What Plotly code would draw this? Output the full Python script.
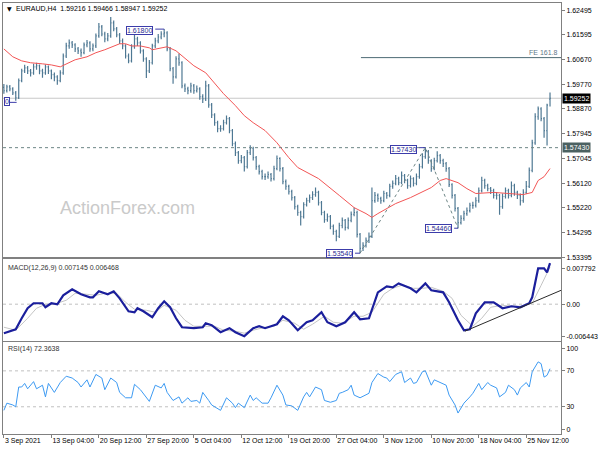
import plotly.graph_objects as go

# ---------------- data ----------------
bar_index = list(range(185))
bar_open = [
    1.5965, 1.5953, 1.5967, 1.5960, 1.5945, 1.5927, 1.5990, 1.6026, 1.6037, 1.6026,
    1.6019, 1.6041, 1.6045, 1.6026, 1.6019, 1.6041, 1.6026, 1.6012, 1.6004, 1.5990,
    1.6019, 1.6081, 1.6118, 1.6129, 1.6122, 1.6107, 1.6100, 1.6093, 1.6122, 1.6129,
    1.6107, 1.6118, 1.6155, 1.6188, 1.6162, 1.6144, 1.6155, 1.6203, 1.6181, 1.6159,
    1.6137, 1.6118, 1.6081, 1.6063, 1.6115, 1.6144, 1.6129, 1.6100, 1.6070, 1.6026,
    1.6056, 1.6118, 1.6137, 1.6151, 1.6162, 1.6166, 1.6107, 1.6034, 1.6004, 1.6070,
    1.6056, 1.5971, 1.5960, 1.5953, 1.5971, 1.5953, 1.5960, 1.5931, 1.5923, 1.5971,
    1.5901, 1.5864, 1.5835, 1.5813, 1.5813, 1.5835, 1.5850, 1.5806, 1.5758, 1.5725,
    1.5695, 1.5706, 1.5673, 1.5725, 1.5740, 1.5706, 1.5673, 1.5655, 1.5636, 1.5636,
    1.5644, 1.5629, 1.5666, 1.5703, 1.5666, 1.5618, 1.5600, 1.5581, 1.5559, 1.5526,
    1.5504, 1.5489, 1.5533, 1.5548, 1.5559, 1.5570, 1.5578, 1.5540, 1.5504, 1.5478,
    1.5489, 1.5453, 1.5434, 1.5416, 1.5456, 1.5475, 1.5449, 1.5475, 1.5497, 1.5504,
    1.5423, 1.5372, 1.5383, 1.5401, 1.5416, 1.5548, 1.5567, 1.5555, 1.5548, 1.5574,
    1.5567, 1.5600, 1.5611, 1.5629, 1.5614, 1.5640, 1.5622, 1.5603, 1.5629, 1.5611,
    1.5636, 1.5673, 1.5710, 1.5728, 1.5695, 1.5666, 1.5695, 1.5714, 1.5695, 1.5684,
    1.5666, 1.5607, 1.5567, 1.5519, 1.5467, 1.5482, 1.5500, 1.5511, 1.5530, 1.5530,
    1.5548, 1.5585, 1.5622, 1.5603, 1.5592, 1.5585, 1.5567, 1.5567, 1.5526, 1.5563,
    1.5585, 1.5567, 1.5603, 1.5578, 1.5567, 1.5548, 1.5578, 1.5600, 1.5659, 1.5761,
    1.5857, 1.5886, 1.5850, 1.5806, 1.59216,
]
bar_high = [
    1.5978, 1.5975, 1.5974, 1.5966, 1.5952, 1.5998, 1.6034, 1.6049, 1.6044, 1.6033,
    1.6052, 1.6056, 1.6050, 1.6034, 1.6050, 1.6046, 1.6031, 1.6020, 1.6010, 1.6028,
    1.6090, 1.6130, 1.6142, 1.6136, 1.6128, 1.6114, 1.6109, 1.6131, 1.6140, 1.6135,
    1.6127, 1.6164, 1.6203, 1.6195, 1.6170, 1.6166, 1.6225, 1.6212, 1.6188, 1.6166,
    1.6145, 1.6124, 1.6090, 1.6124, 1.6158, 1.6152, 1.6135, 1.6106, 1.6076, 1.6066,
    1.6126, 1.6148, 1.6162, 1.6172, 1.6180, 1.6172, 1.6114, 1.6040, 1.6080, 1.6090,
    1.6062, 1.5980, 1.5968, 1.5982, 1.5978, 1.5972, 1.5966, 1.5940, 1.5990, 1.5978,
    1.5908, 1.5870, 1.5842, 1.5826, 1.5846, 1.5862, 1.5856, 1.5812, 1.5766, 1.5731,
    1.5716, 1.5712, 1.5734, 1.5752, 1.5746, 1.5712, 1.5680, 1.5662, 1.5648, 1.5655,
    1.5650, 1.5676, 1.5714, 1.5708, 1.5672, 1.5626, 1.5606, 1.5588, 1.5565, 1.5533,
    1.5510, 1.5542, 1.5558, 1.5570, 1.5582, 1.5596, 1.5584, 1.5546, 1.5510, 1.5500,
    1.5495, 1.5460, 1.5440, 1.5466, 1.5486, 1.5480, 1.5486, 1.5508, 1.5522, 1.5510,
    1.5428, 1.5394, 1.5412, 1.5430, 1.5596, 1.5580, 1.5574, 1.5562, 1.5584, 1.5580,
    1.5610, 1.5622, 1.5642, 1.5636, 1.5655, 1.5646, 1.5628, 1.5640, 1.5634, 1.5648,
    1.5684, 1.5722, 1.5743, 1.5734, 1.5700, 1.5706, 1.5730, 1.5720, 1.5702, 1.5690,
    1.5672, 1.5612, 1.5572, 1.5524, 1.5494, 1.5510, 1.5522, 1.5540, 1.5544, 1.5560,
    1.5596, 1.5636, 1.5628, 1.5610, 1.5598, 1.5592, 1.5580, 1.5572, 1.5574, 1.5596,
    1.5592, 1.5618, 1.5610, 1.5584, 1.5574, 1.5590, 1.5620, 1.5670, 1.5772, 1.5870,
    1.5895, 1.5892, 1.5856, 1.5905, 1.59466,
]
bar_low = [
    1.5942, 1.5946, 1.5951, 1.5937, 1.5916, 1.5922, 1.5984, 1.6018, 1.6015, 1.6005,
    1.6012, 1.6030, 1.6014, 1.6001, 1.6012, 1.6015, 1.5995, 1.5988, 1.5975, 1.5984,
    1.6012, 1.6074, 1.6108, 1.6110, 1.6096, 1.6088, 1.6078, 1.6087, 1.6113, 1.6097,
    1.6098, 1.6110, 1.6148, 1.6154, 1.6132, 1.6135, 1.6148, 1.6172, 1.6150, 1.6125,
    1.6106, 1.6072, 1.6054, 1.6057, 1.6108, 1.6118, 1.6090, 1.6060, 1.6000, 1.6018,
    1.6050, 1.6110, 1.6128, 1.6143, 1.6150, 1.6098, 1.6025, 1.5979, 1.5998, 1.6045,
    1.5962, 1.5948, 1.5940, 1.5945, 1.5942, 1.5946, 1.5920, 1.5908, 1.5915, 1.5890,
    1.5852, 1.5824, 1.5800, 1.5802, 1.5806, 1.5828, 1.5796, 1.5748, 1.5712, 1.5684,
    1.5686, 1.5655, 1.5666, 1.5716, 1.5696, 1.5662, 1.5644, 1.5626, 1.5624, 1.5628,
    1.5618, 1.5622, 1.5660, 1.5655, 1.5608, 1.5588, 1.5570, 1.5548, 1.5515, 1.5492,
    1.5456, 1.5482, 1.5526, 1.5540, 1.5550, 1.5562, 1.5530, 1.5494, 1.5466, 1.5470,
    1.5442, 1.5422, 1.5398, 1.5410, 1.5446, 1.5438, 1.5442, 1.5468, 1.5490, 1.5412,
    1.5354, 1.5362, 1.5375, 1.5392, 1.5410, 1.5540, 1.5544, 1.5536, 1.5542, 1.5555,
    1.5560, 1.5592, 1.5604, 1.5604, 1.5608, 1.5612, 1.5592, 1.5596, 1.5600, 1.5604,
    1.5628, 1.5666, 1.5702, 1.5684, 1.5654, 1.5660, 1.5688, 1.5684, 1.5672, 1.5654,
    1.5598, 1.5556, 1.5508, 1.5446, 1.5460, 1.5474, 1.5492, 1.5504, 1.5518, 1.5522,
    1.5540, 1.5578, 1.5592, 1.5582, 1.5572, 1.5556, 1.5552, 1.5496, 1.5518, 1.5556,
    1.5556, 1.5560, 1.5566, 1.5554, 1.5530, 1.5540, 1.5572, 1.5594, 1.5652, 1.5754,
    1.5846, 1.5840, 1.5780, 1.5751, 1.58947,
]
bar_close = [
    1.5953, 1.5967, 1.5960, 1.5945, 1.5927, 1.5990, 1.6026, 1.6037, 1.6026, 1.6019,
    1.6041, 1.6045, 1.6026, 1.6019, 1.6041, 1.6026, 1.6012, 1.6004, 1.5990, 1.6019,
    1.6081, 1.6118, 1.6129, 1.6122, 1.6107, 1.6100, 1.6093, 1.6122, 1.6129, 1.6107,
    1.6118, 1.6155, 1.6188, 1.6162, 1.6144, 1.6155, 1.6203, 1.6181, 1.6159, 1.6137,
    1.6118, 1.6081, 1.6063, 1.6115, 1.6144, 1.6129, 1.6100, 1.6070, 1.6026, 1.6056,
    1.6118, 1.6137, 1.6151, 1.6162, 1.6166, 1.6107, 1.6034, 1.6004, 1.6070, 1.6056,
    1.5971, 1.5960, 1.5953, 1.5971, 1.5953, 1.5960, 1.5931, 1.5923, 1.5971, 1.5901,
    1.5864, 1.5835, 1.5813, 1.5813, 1.5835, 1.5850, 1.5806, 1.5758, 1.5725, 1.5695,
    1.5706, 1.5673, 1.5725, 1.5740, 1.5706, 1.5673, 1.5655, 1.5636, 1.5636, 1.5644,
    1.5629, 1.5666, 1.5703, 1.5666, 1.5618, 1.5600, 1.5581, 1.5559, 1.5526, 1.5504,
    1.5489, 1.5533, 1.5548, 1.5559, 1.5570, 1.5578, 1.5540, 1.5504, 1.5478, 1.5489,
    1.5453, 1.5434, 1.5416, 1.5456, 1.5475, 1.5449, 1.5475, 1.5497, 1.5504, 1.5423,
    1.5372, 1.5383, 1.5401, 1.5416, 1.5548, 1.5567, 1.5555, 1.5548, 1.5574, 1.5567,
    1.5600, 1.5611, 1.5629, 1.5614, 1.5640, 1.5622, 1.5603, 1.5629, 1.5611, 1.5636,
    1.5673, 1.5710, 1.5728, 1.5695, 1.5666, 1.5695, 1.5714, 1.5695, 1.5684, 1.5666,
    1.5607, 1.5567, 1.5519, 1.5467, 1.5482, 1.5500, 1.5511, 1.5530, 1.5530, 1.5548,
    1.5585, 1.5622, 1.5603, 1.5592, 1.5585, 1.5567, 1.5567, 1.5526, 1.5563, 1.5585,
    1.5567, 1.5603, 1.5578, 1.5567, 1.5548, 1.5578, 1.5600, 1.5659, 1.5761, 1.5857,
    1.5886, 1.5850, 1.5806, 1.5900, 1.59252,
]

ma_index = [0, 3, 6, 9, 13, 16, 19, 21, 24, 28, 31, 34, 37, 39, 41, 43, 46, 49, 50, 53,
            55, 58, 61, 64, 68, 71, 74, 78, 81, 84, 88, 92, 96, 99, 106, 113, 118, 122, 124, 126,
            132, 137, 140, 144, 147, 149, 153, 156, 159, 165, 170, 175, 178, 180, 182, 184]
ma_value = [1.6107, 1.6078, 1.6063, 1.6056, 1.6052, 1.6048, 1.6041, 1.6052, 1.6067, 1.6078,
            1.6093, 1.6104, 1.6118, 1.6126, 1.6126, 1.6118, 1.6118, 1.6111, 1.6104, 1.6111,
            1.6115, 1.6100, 1.6074, 1.6045, 1.6019, 1.5979, 1.5942, 1.5898, 1.5861, 1.5835,
            1.5806, 1.5761, 1.5706, 1.5670, 1.5629, 1.5567, 1.5522, 1.5500, 1.5486, 1.5500,
            1.5537, 1.5559, 1.5574, 1.5596, 1.5622, 1.5629, 1.5614, 1.5592, 1.5574, 1.5578,
            1.5574, 1.5570, 1.5578, 1.5622, 1.5636, 1.5666]

macd_index = [0, 4, 6, 8, 10, 13, 14, 16, 18, 20, 23, 26, 29, 30, 32, 35, 37, 39, 42, 44,
              45, 47, 50, 52, 54, 56, 58, 60, 64, 67, 68, 70, 73, 76, 78, 81, 84, 86, 88, 92,
              94, 96, 99, 102, 104, 107, 109, 112, 115, 118, 120, 123, 126, 129, 131, 133, 137, 139, 142, 144,
              148, 150, 153, 155, 157, 159, 162, 165, 168, 171, 174, 177, 178, 180, 182, 183, 184]
macd_value = [-0.00505, -0.00436, -0.00245, -0.00071, 0.00016, 0.00016, -0.00054, 0.00016, -0.00002, 0.00154,
              0.00258, 0.00172, 0.00120, 0.00120, 0.00224, 0.00172, 0.00224, 0.00102, -0.00123, -0.00141,
              -0.00071, -0.00123, -0.00228, -0.00071, 0.00050, -0.00054, -0.00245, -0.00401, -0.00418, -0.00401,
              -0.00332, -0.00366, -0.00488, -0.00418, -0.00488, -0.00557, -0.00418, -0.00384, -0.00418, -0.00349,
              -0.00210, -0.00280, -0.00453, -0.00314, -0.00280, -0.00141, -0.00314, -0.00384, -0.00314, -0.00141,
              -0.00262, -0.00245, 0.00206, 0.00310, 0.00293, 0.00362, 0.00276, 0.00206, 0.00362, 0.00241,
              0.00206, 0.00033, -0.00280, -0.00453, -0.00436, -0.00158, 0.00033, 0.00033, -0.00071, -0.00036,
              -0.00054, 0.00016, 0.00120, 0.00623, 0.00623, 0.00553, 0.007145]

signal_index = [0, 4, 8, 11, 14, 18, 21, 24, 28, 31, 34, 38, 41, 44, 48, 51, 54, 58, 61, 64,
                68, 71, 74, 78, 81, 84, 88, 91, 94, 98, 101, 104, 108, 111, 114, 118, 121, 124, 128, 131,
                134, 138, 141, 144, 148, 151, 154, 158, 161, 164, 168, 171, 174, 178, 181, 184]
signal_value = [-0.00401, -0.00453, -0.00245, -0.00071, -0.00002, 0.00016, 0.00068, 0.00189, 0.00172, 0.00154,
                0.00189, 0.00189, 0.00033, -0.00088, -0.00106, -0.00141, -0.00019, -0.00106, -0.00280, -0.00384,
                -0.00384, -0.00384, -0.00453, -0.00470, -0.00505, -0.00453, -0.00401, -0.00384, -0.00280, -0.00332,
                -0.00436, -0.00349, -0.00210, -0.00314, -0.00332, -0.00210, -0.00210, -0.00141, 0.00172, 0.00276,
                0.00328, 0.00276, 0.00276, 0.00293, 0.00224, 0.00102, -0.00193, -0.00384, -0.00245, -0.00054,
                -0.00019, -0.00036, -0.00036, 0.00016, 0.00328, 0.006468]

rsi_index = [0, 1, 3, 4, 5, 6, 7, 8, 10, 11, 13, 14, 15, 17, 19, 21, 23, 25, 26, 28,
             29, 31, 33, 34, 36, 38, 39, 41, 43, 44, 46, 48, 49, 51, 53, 54, 55, 57, 59, 60,
             62, 63, 65, 66, 67, 69, 70, 73, 75, 77, 78, 79, 81, 83, 84, 85, 87, 89, 90, 92,
             94, 95, 97, 99, 101, 102, 103, 105, 107, 108, 110, 112, 113, 114, 116, 117, 118, 120, 122, 123,
             124, 126, 128, 129, 130, 132, 134, 135, 137, 138, 139, 141, 142, 144, 145, 147, 149, 150, 152, 153,
             155, 157, 158, 160, 161, 163, 164, 166, 167, 169, 170, 172, 173, 174, 176, 177, 178, 180, 181, 182,
             183, 184]
rsi_value = [26, 34, 32, 30, 52, 52, 56, 50, 58, 50, 54, 41, 56, 46, 57, 64, 62, 57, 52, 60,
             52, 66, 62, 49, 62, 57, 46, 40, 40, 55, 49, 40, 36, 54, 51, 56, 46, 37, 41, 34,
             40, 36, 37, 34, 46, 37, 32, 26, 40, 34, 29, 34, 29, 43, 37, 40, 34, 34, 40, 54,
             43, 32, 31, 26, 41, 46, 41, 52, 49, 37, 35, 37, 45, 46, 49, 54, 43, 40, 43, 45,
             57, 67, 63, 62, 58, 66, 69, 57, 62, 56, 57, 69, 70, 54, 60, 57, 54, 43, 32, 23,
             34, 41, 45, 56, 49, 57, 54, 51, 41, 46, 54, 49, 43, 51, 57, 52, 69, 80, 78, 63,
             65, 72.3638]

swing_index = [120, 142, 153]
swing_price = [1.5354, 1.5743, 1.5446]

macd_trend_index = [155.3, 187.7]
macd_trend_value = [-0.00471, 0.00241]

label_text = ["1.61800", "1.57430", "1.54460", "1.53540", "0"]
label_index = [45.7, 134.7, 146.3, 113.0, 1.9]
label_price = [1.6175, 1.5738, 1.5445, 1.5352, 1.5914]
label_anchor = ["center", "center", "center", "center", "right"]

connector_from = [51.0, 140.0, 151.7, 118.3, 1.9]
connector_to = [54.0, 142.0, 153.0, 120.0, 4.3]
connector_price = [1.6180, 1.5743, 1.5446, 1.5354, 1.5910]

level_dotted = 1.5743
level_current = 1.59252
fe_level = 1.6075
fe_start_index = 120.3

x_tick_index = [0, 16, 32, 48, 64, 80, 96, 112, 128, 144, 160, 176]
x_tick_labels = ["3 Sep 2021", "13 Sep 04:00", "20 Sep 12:00", "27 Sep 20:00", "5 Oct 04:00",
                 "12 Oct 12:00", "19 Oct 20:00", "27 Oct 04:00", "3 Nov 12:00", "10 Nov 20:00",
                 "18 Nov 04:00", "25 Nov 12:00"]
price_tick_values = [1.62495, 1.61595, 1.60670, 1.59770, 1.58870, 1.57945, 1.57045,
                     1.56120, 1.55220, 1.54295, 1.53395]
price_tick_labels = ["1.62495", "1.61595", "1.60670", "1.59770", "1.58870", "1.57945", "1.57045",
                     "1.56120", "1.55220", "1.54295", "1.53395"]
macd_tick_values = [0.00623, 0.0, -0.00557]
macd_tick_labels = ["0.007792", "0.00", "-0.006443"]
rsi_tick_values = [95.2, 70, 30, 4.9]
rsi_tick_labels = ["100", "70", "30", "0"]
rsi_levels = [70, 30]

# ---------------- styling ----------------
FONT = "Liberation Sans"
AX = "#808080"
BAR = "#4e7893"
tickfont = dict(family=FONT, size=7, color="#000000")
XR = [-0.3, 187.7]

fig = go.Figure()

fig.add_trace(go.Ohlc(
    x=bar_index, open=bar_open, high=bar_high, low=bar_low, close=bar_close,
    increasing=dict(line=dict(color=BAR, width=1.2)),
    decreasing=dict(line=dict(color=BAR, width=1.2)),
    tickwidth=0.3, xaxis="x", yaxis="y", hoverinfo="skip",
))
fig.add_trace(go.Scatter(x=ma_index, y=ma_value, mode="lines",
                         line=dict(color="#f25555", width=1), xaxis="x", yaxis="y"))
fig.add_trace(go.Scatter(x=swing_index, y=swing_price, mode="lines",
                         line=dict(color="#6d8585", width=1, dash="dot"), xaxis="x", yaxis="y"))

fig.add_trace(go.Scatter(x=signal_index, y=signal_value, mode="lines",
                         line=dict(color="#c4c4c4", width=1), xaxis="x2", yaxis="y2"))
fig.add_trace(go.Scatter(x=macd_index, y=macd_value, mode="lines",
                         line=dict(color="#1b1f9c", width=2.2), xaxis="x2", yaxis="y2"))
fig.add_trace(go.Scatter(x=macd_trend_index, y=macd_trend_value, mode="lines",
                         line=dict(color="#2a2a2a", width=1), xaxis="x2", yaxis="y2",
                         cliponaxis=True))

fig.add_trace(go.Scatter(x=rsi_index, y=rsi_value, mode="lines",
                         line=dict(color="#3d9af2", width=1), xaxis="x3", yaxis="y3"))

shapes = [
    dict(type="line", xref="x domain", yref="y", x0=0, x1=1, y0=level_current, y1=level_current,
         line=dict(color="#c8c8c8", width=1), layer="below"),
    dict(type="line", xref="x domain", yref="y", x0=0, x1=1, y0=level_dotted, y1=level_dotted,
         line=dict(color="#6d8585", width=1, dash="dot")),
    dict(type="line", xref="x", yref="y", x0=fe_start_index, x1=XR[1], y0=fe_level, y1=fe_level,
         line=dict(color="#4d6a74", width=1)),
    dict(type="line", xref="x2 domain", yref="y2", x0=0, x1=1, y0=0, y1=0,
         line=dict(color="#c0c0c0", width=1, dash="dot"), layer="below"),
]
for lv in rsi_levels:
    shapes.append(dict(type="line", xref="x3 domain", yref="y3", x0=0, x1=1, y0=lv, y1=lv,
                       line=dict(color="#c0c0c0", width=1, dash="dot"), layer="below"))
for a, b, p in zip(connector_from, connector_to, connector_price):
    shapes.append(dict(type="line", xref="x", yref="y", x0=a, x1=b, y0=p, y1=p,
                       line=dict(color="#3c3caa", width=1)))

annotations = [
    dict(text="▼", xref="paper", yref="paper", x=0.0035, y=0.9861, xanchor="left", yanchor="middle",
         showarrow=False, font=dict(family="DejaVu Sans", size=6, color="#000000")),
    dict(text="EURAUD,H4\u00a0\u00a01.59216 1.59466 1.58947 1.59252", xref="paper", yref="paper",
         x=0.0195, y=0.9861, xanchor="left", yanchor="middle", showarrow=False,
         font=dict(family=FONT, size=7, color="#000000")),
    dict(text="MACD(12,26,9) 0.007145 0.006468", xref="paper", yref="paper", x=0.0053, y=0.3843,
         xanchor="left", yanchor="middle", showarrow=False, font=dict(family=FONT, size=7, color="#333333")),
    dict(text="RSI(14) 72.3638", xref="paper", yref="paper", x=0.0053, y=0.1968,
         xanchor="left", yanchor="middle", showarrow=False, font=dict(family=FONT, size=7, color="#333333")),
    dict(text="ActionForex.com", xref="paper", yref="paper", x=0.2234, y=0.5255,
         xanchor="center", yanchor="middle", showarrow=False,
         font=dict(family=FONT, size=18, color="#cacaca")),
    dict(text="FE 161.8", xref="paper", yref="y", x=1, y=fe_level, xanchor="right", yanchor="bottom",
         xshift=-1, showarrow=False, font=dict(family=FONT, size=7, color="#5f7888")),
    dict(text="1.59252", xref="paper", yref="y", x=1, y=level_current, xanchor="left", yanchor="middle",
         xshift=1, showarrow=False, bgcolor="#000000", borderpad=1,
         font=dict(family=FONT, size=7, color="#ffffff")),
    dict(text="1.57430", xref="paper", yref="y", x=1, y=level_dotted, xanchor="left", yanchor="middle",
         xshift=1, showarrow=False, bgcolor="#4b6161", borderpad=1,
         font=dict(family=FONT, size=7, color="#ffffff")),
]
for t, xi, pr, anc in zip(label_text, label_index, label_price, label_anchor):
    annotations.append(dict(text=t, xref="x", yref="y", x=xi, y=pr, xanchor=anc, yanchor="middle",
                            showarrow=False, bgcolor="#ffffff", bordercolor="#3c3caa", borderwidth=1,
                            borderpad=0, font=dict(family=FONT, size=7, color="#2a2a90")))


def xaxis(anchor, labels=False, match=None):
    d = dict(domain=[0, 1], anchor=anchor, range=XR, showgrid=False, zeroline=False,
             showline=True, mirror=True, linecolor=AX, linewidth=1,
             rangeslider=dict(visible=False))
    if match:
        d["matches"] = match
    if labels:
        d.update(tickmode="array", tickvals=x_tick_index, ticktext=x_tick_labels,
                 ticks="outside", ticklen=3, tickcolor=AX, tickfont=tickfont,
                 tickangle=0, ticklabelposition="outside right")
    else:
        d.update(showticklabels=False, ticks="")
    return d


def yaxis(anchor, domain, rng, vals, texts):
    return dict(domain=domain, anchor=anchor, side="right", range=rng, showgrid=False,
                zeroline=False, showline=True, mirror=True, linecolor=AX, linewidth=1,
                tickmode="array", tickvals=vals, ticktext=texts, ticks="outside", ticklen=3,
                tickcolor=AX, tickfont=tickfont)


fig.update_layout(
    width=600, height=450,
    margin=dict(l=2, r=34, t=2, b=16),
    paper_bgcolor="#ffffff", plot_bgcolor="#ffffff",
    showlegend=False, hovermode=False,
    xaxis=xaxis("y"),
    xaxis2=xaxis("y2", match="x"),
    xaxis3=xaxis("y3", labels=True, match="x"),
    yaxis=yaxis("x", [0.4097, 1.0], [1.53384, 1.62763], price_tick_values, price_tick_labels),
    yaxis2=yaxis("x2", [0.2153, 0.4051], [-0.006443, 0.007792], macd_tick_values, macd_tick_labels),
    yaxis3=yaxis("x3", [0.0, 0.2130], [-0.33, 101.9], rsi_tick_values, rsi_tick_labels),
    shapes=shapes,
    annotations=annotations,
)

fig.write_html(
    "out.html",
    config={"displayModeBar": False},
    post_script="document.body.style.margin='0px';document.body.style.padding='0px';"
                "document.body.style.overflow='hidden';",
)
